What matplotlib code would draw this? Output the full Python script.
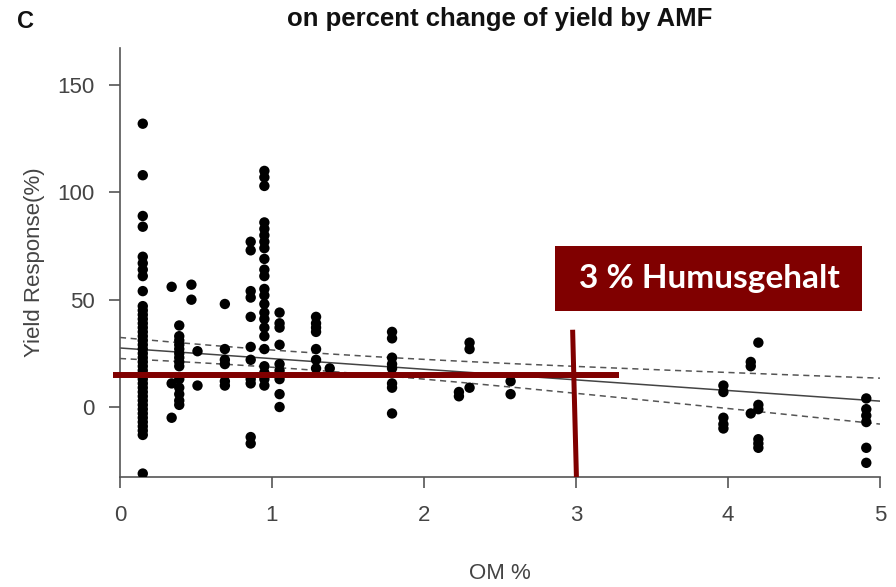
import numpy as np
import matplotlib
matplotlib.use("Agg")
import matplotlib.pyplot as plt
from matplotlib.patches import Rectangle

plt.rcParams['font.family'] = ['Liberation Sans', 'DejaVu Sans']

# Organic matter (%) and yield response (%) per observation, grouped by OM level
om_levels = [0.15, 0.34, 0.39, 0.47, 0.51, 0.69, 0.86, 0.95, 1.05, 1.29, 1.38,
             1.79, 2.23, 2.30, 2.57, 3.97, 4.15, 4.20, 4.91]
yield_groups = [
    [132, 108, 89, 84, 70, 67, 64, 61, 54, 47, 45, 43, 41, 39, 37, 35, 33, 31,
     29, 27, 25, 23, 21, 19, 17, 15, 13, 11, 9, 7, 5, 3, 1, -1, -3, -5, -7,
     -9, -11, -13, -31],
    [56, 11, -5],
    [38, 33, 31, 29, 27, 25, 23, 21, 19, 13, 9, 6, 3, 1],
    [57, 50],
    [26, 10],
    [48, 27, 22, 20, 12, 10],
    [77, 73, 54, 51, 42, 28, 22, 13, 11, -14, -17],
    [110, 107, 103, 86, 83, 80, 77, 74, 69, 64, 61, 55, 52, 48, 44, 41, 37,
     33, 27, 19, 16, 13, 10],
    [44, 39, 37, 29, 20, 17, 13, 6, 0],
    [42, 39, 37, 35, 27, 22, 18],
    [18],
    [35, 32, 23, 20, 18, 11, 9, -3],
    [7, 5],
    [30, 27, 9],
    [12, 6],
    [10, 7, -5, -8, -10],
    [21, 19, -3],
    [30, 1, -1, -15, -17, -19],
    [4, -1, -4, -7, -19, -26],
]

# Linear fit and its confidence band
fit_intercept = 27.5
fit_slope = -4.95
band_min_half = 4.0
band_center = 1.11
band_curvature = 6.5

# Reference markers
threshold_om = 3
reference_yield = 15
label_text = "3 % Humusgehalt"

dark_red = '#800000'
axis_grey = '#555555'

om = np.concatenate([[x] * len(g) for x, g in zip(om_levels, yield_groups)])
yr = np.concatenate([np.asarray(g, float) for g in yield_groups])

fig = plt.figure(figsize=(8.96, 5.87), dpi=100)
ax = fig.add_axes([0.1339, 0.1874, 0.8482, 0.7306])

ax.scatter(om, yr, s=56, color='black', edgecolors='none', zorder=3)

xs = np.linspace(0, 5, 200)
fit = fit_intercept + fit_slope * xs
half = np.sqrt(band_min_half ** 2 + band_curvature * (xs - band_center) ** 2)
ax.plot(xs, fit, color='#444444', lw=1.1, zorder=2)
ax.plot(xs, fit + half, color='#555555', lw=1.1, ls=(0, (4, 3)), zorder=2)
ax.plot(xs, fit - half, color='#555555', lw=1.1, ls=(0, (4, 3)), zorder=2)

ax.set_xlim(0, 5)
ax.set_ylim(-32.6, 167.2)
ax.set_xticks([0, 1, 2, 3, 4, 5])
ax.set_yticks([0, 50, 100, 150])
for side in ('top', 'right'):
    ax.spines[side].set_visible(False)
for side in ('left', 'bottom'):
    ax.spines[side].set_color(axis_grey)
    ax.spines[side].set_linewidth(1.2)
ax.tick_params(axis='both', direction='out', length=8, width=1.2,
               color=axis_grey, labelcolor='#444444', labelsize=16)
ax.tick_params(axis='x', pad=12)
ax.tick_params(axis='y', pad=10)

ax.set_ylabel('Yield Response(%)', fontsize=16, color='#444444', labelpad=9)
fig.text(0.558, 0.0225, 'OM %', ha='center', va='center', fontsize=16,
         color='#444444')

fig.text(0.558, 0.968, 'on percent change of yield by AMF', ha='center',
         va='center', fontsize=18.5, fontweight='bold', color='#111111')
fig.text(0.028, 0.963, 'C', ha='center', va='center', fontsize=17,
         fontweight='bold', color='#111111')

# Reference lines for the organic-matter threshold
ax.plot([-0.046, 3.28], [reference_yield, reference_yield], color=dark_red,
        lw=4.3, solid_capstyle='butt', clip_on=False, zorder=4)
ax.plot([threshold_om - 0.022, threshold_om + 0.003], [36, -32.6],
        color=dark_red, lw=3.6, solid_capstyle='butt', clip_on=False, zorder=4)

box = Rectangle((0.573, 0.387), 0.404, 0.152, transform=ax.transAxes,
                facecolor=dark_red, edgecolor='none', zorder=5, clip_on=False)
ax.add_patch(box)
ax.text(0.573 + 0.202, 0.387 + 0.076, label_text, transform=ax.transAxes,
        ha='center', va='center', fontsize=24, fontweight='bold',
        color='white', family=['Lato', 'DejaVu Sans'], zorder=6)

fig.savefig('out.png', dpi=100, facecolor='white')
